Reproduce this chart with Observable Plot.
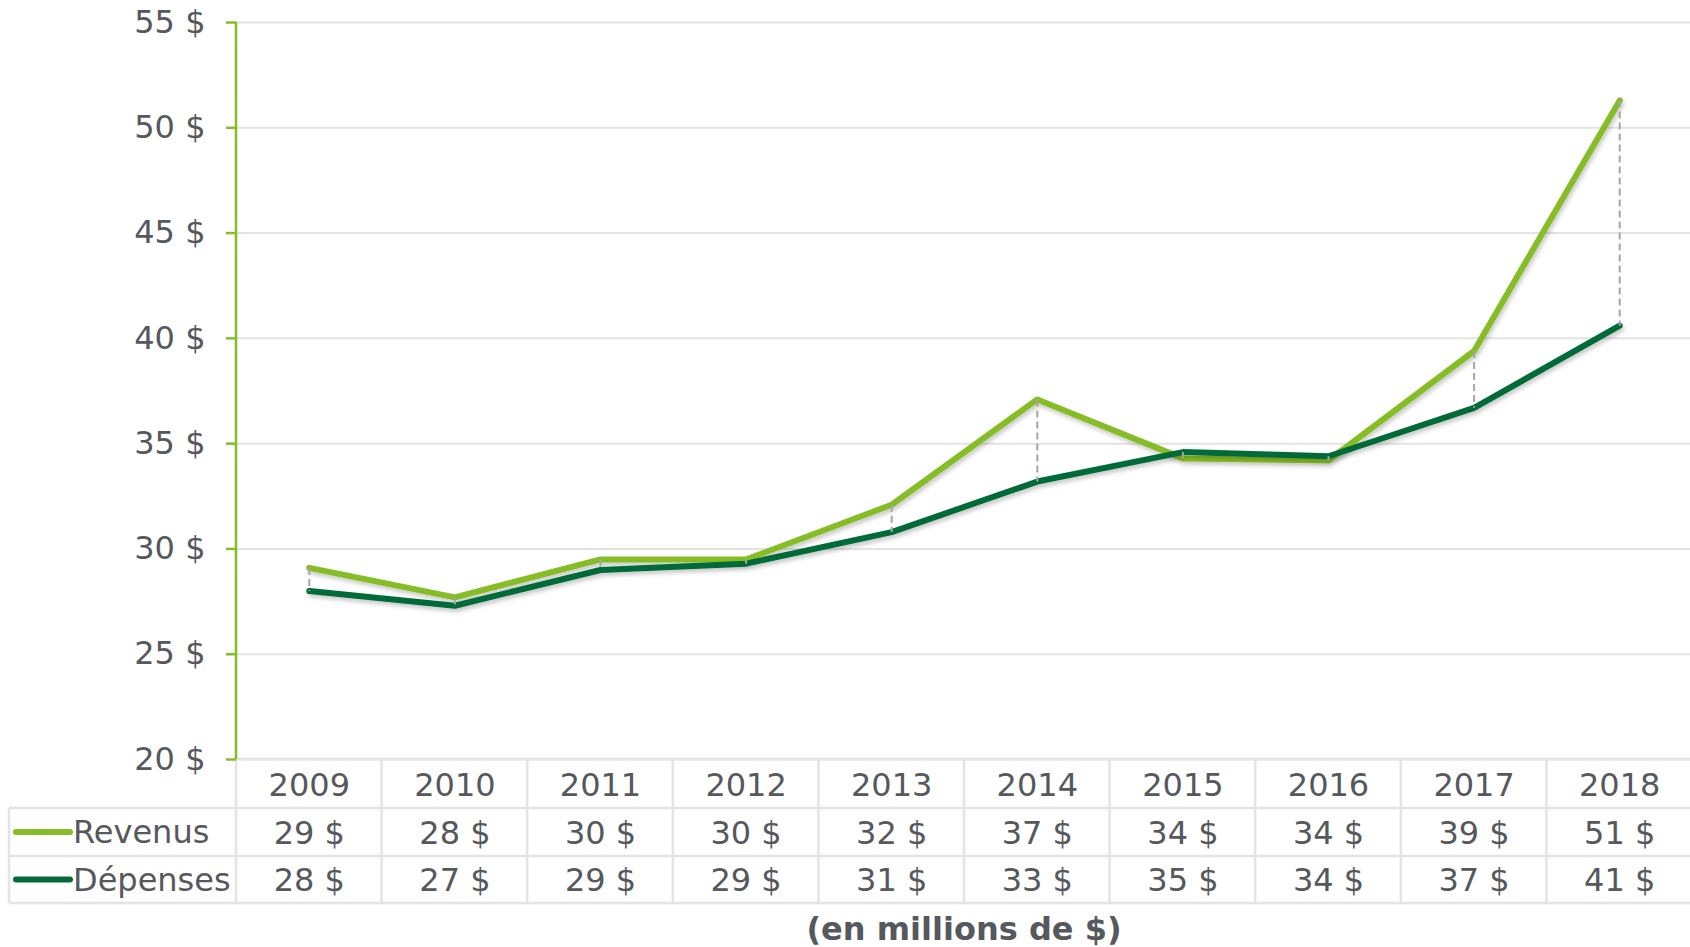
<!DOCTYPE html>
<html>
<head>
<meta charset="utf-8">
<script src="https://cdn.jsdelivr.net/npm/d3@7"></script>
<script src="https://cdn.jsdelivr.net/npm/@observablehq/plot@0.6"></script>
<style>
  html, body { margin: 0; padding: 0; background: #ffffff; }
  #chart svg { display: block; }
  #caption {
    font-family: "DejaVu Sans", Verdana, sans-serif;
    font-weight: bold;
    font-size: 32px;
    color: #55585c;
    line-height: 42px;
    height: 42px;
    margin-left: 236px;
    width: 1456px;
    text-align: center;
  }
</style>
</head>
<body>
<div id="chart"></div>
<div id="caption">(en millions de $)</div>
<script>
const years = ["2009", "2010", "2011", "2012", "2013", "2014", "2015", "2016", "2017", "2018"];
const revenus = [29.1, 27.7, 29.5, 29.5, 32.1, 37.1, 34.3, 34.2, 39.4, 51.3];
const depenses = [28.0, 27.3, 29.0, 29.3, 30.8, 33.2, 34.6, 34.4, 36.7, 40.6];
const revenusLabels = ["29 $", "28 $", "30 $", "30 $", "32 $", "37 $", "34 $", "34 $", "39 $", "51 $"];
const depensesLabels = ["28 $", "27 $", "29 $", "29 $", "31 $", "33 $", "35 $", "34 $", "37 $", "41 $"];
const seriesNames = ["Revenus", "Dépenses"];
const yTicks = [20, 25, 30, 35, 40, 45, 50, 55];

const lightGreen = "#86bc25";
const darkGreen = "#046a38";
const textColor = "#55585c";
const borderColor = "#e4e4e4";

const revData = years.map((y, i) => ({year: y, value: revenus[i]}));
const depData = years.map((y, i) => ({year: y, value: depenses[i]}));
const gapData = years.map((y, i) => ({year: y, rev: revenus[i], dep: depenses[i]}));

// Table drawn below the plot frame using the x scale
function tableMark(index, scales, values, dim) {
  const x = scales.x;
  const step = x(years[1]) - x(years[0]);
  const left = dim.marginLeft;
  const right = dim.width - dim.marginRight;
  const top = dim.height - dim.marginBottom;
  const tableLeft = 9;
  const rows = [top, top + 49, top + 97, top + 144];
  const g = d3.create("svg:g");
  const lines = g.append("g").attr("stroke", borderColor).attr("stroke-width", 2.5);
  lines.append("line").attr("x1", left).attr("x2", right).attr("y1", rows[0]).attr("y2", rows[0]);
  for (let r = 1; r < rows.length; r++) {
    lines.append("line").attr("x1", tableLeft).attr("x2", right).attr("y1", rows[r]).attr("y2", rows[r]);
  }
  years.forEach((yr) => {
    const bx = x(yr) - step / 2;
    lines.append("line").attr("x1", bx).attr("x2", bx).attr("y1", rows[0]).attr("y2", rows[3]);
  });
  lines.append("line").attr("x1", tableLeft).attr("x2", tableLeft).attr("y1", rows[1]).attr("y2", rows[3]);

  // legend cells
  const colors = [lightGreen, darkGreen];
  seriesNames.forEach((name, i) => {
    const cy = (rows[i + 1] + rows[i + 2]) / 2;
    g.append("line")
      .attr("x1", 16).attr("x2", 70).attr("y1", cy).attr("y2", cy)
      .attr("stroke", colors[i]).attr("stroke-width", 6).attr("stroke-linecap", "round");
    g.append("text")
      .attr("x", 73).attr("y", cy).attr("dy", "0.35em")
      .attr("text-anchor", "start")
      .attr("fill", textColor)
      .text(name);
  });
  // green y axis line
  g.append("line")
    .attr("x1", left).attr("x2", left)
    .attr("y1", dim.marginTop).attr("y2", top)
    .attr("stroke", lightGreen).attr("stroke-width", 2.5);
  return g.node();
}

const chart = Plot.plot({
  width: 1690,
  height: 908,
  marginLeft: 236,
  marginRight: -2,
  marginTop: 22,
  marginBottom: 149,
  style: {
    fontFamily: "'DejaVu Sans', Verdana, sans-serif",
    fontSize: "32px",
    color: textColor,
    background: "#ffffff"
  },
  x: {type: "point", domain: years, padding: 0.5, round: false, axis: null},
  y: {domain: [20, 55], axis: null},
  marks: [
    Plot.gridY(yTicks, {stroke: "#e3e3e3", strokeOpacity: 1, strokeWidth: 2}),
    tableMark,
    Plot.line(revData, {x: "year", y: "value", stroke: lightGreen, strokeWidth: 6, strokeLinecap: "round", strokeLinejoin: "round"}),
    Plot.line(depData, {x: "year", y: "value", stroke: darkGreen, strokeWidth: 6, strokeLinecap: "round", strokeLinejoin: "round"}),
    Plot.link(gapData, {x1: "year", x2: "year", y1: "rev", y2: "dep", stroke: "#a5a5a5", strokeWidth: 2, strokeDasharray: "7,4"}),
    Plot.axisY(yTicks, {
      tickFormat: (d) => `${d} $`,
      tickSize: 10,
      tickPadding: 21,
      stroke: lightGreen,
      strokeWidth: 2.5,
      fill: textColor,
      label: null
    }),
    Plot.text(years, {x: (d) => d, text: (d) => d, frameAnchor: "bottom", lineAnchor: "middle", dy: 26, fill: textColor}),
    Plot.text(years, {x: (d) => d, text: (d, i) => revenusLabels[i], frameAnchor: "bottom", lineAnchor: "middle", dy: 74, fill: textColor}),
    Plot.text(years, {x: (d) => d, text: (d, i) => depensesLabels[i], frameAnchor: "bottom", lineAnchor: "middle", dy: 121, fill: textColor})
  ]
});

// subtle drop shadow under the lines
const svgSel = d3.select(chart);
const filter = svgSel.insert("defs", ":first-child")
  .append("filter").attr("id", "lineShadow")
  .attr("filterUnits", "userSpaceOnUse")
  .attr("x", 0).attr("y", 0).attr("width", 1690).attr("height", 908);
filter.append("feDropShadow")
  .attr("dx", 1.5).attr("dy", 3).attr("stdDeviation", 2)
  .attr("flood-color", "#000").attr("flood-opacity", 0.22);
svgSel.selectAll('g[aria-label="line"]').attr("filter", "url(#lineShadow)");

document.getElementById("chart").appendChild(chart);
</script>
</body>
</html>
